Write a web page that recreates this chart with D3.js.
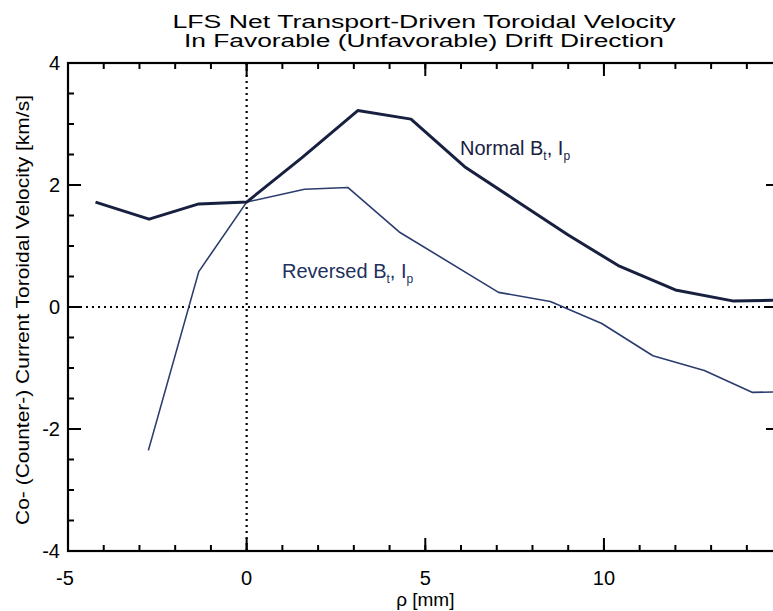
<!DOCTYPE html>
<html><head><meta charset="utf-8">
<script src="https://cdn.jsdelivr.net/npm/d3@7"></script>
<style>
html,body{margin:0;padding:0;background:#fff;}
svg text{font-family:"Liberation Sans",Arial,Helvetica,sans-serif;fill:#000;}
</style></head>
<body><svg id="c" width="773" height="611"></svg>
<script>
// Data
const normalX = [-4.23, -2.73, -1.34, 0.0, 1.55, 3.11, 4.6, 6.1, 7.5, 9.0, 10.4, 12.0, 13.6, 14.9];
const normalY = [1.72, 1.44, 1.69, 1.72, 2.45, 3.22, 3.08, 2.3, 1.76, 1.18, 0.68, 0.28, 0.1, 0.11];
const reversedX = [-2.75, -1.34, 0.0, 1.62, 2.83, 4.27, 7.05, 8.5, 9.94, 11.37, 12.81, 14.16, 14.9];
const reversedY = [-2.35, 0.58, 1.72, 1.93, 1.96, 1.23, 0.24, 0.09, -0.27, -0.8, -1.04, -1.4, -1.39];
const xMajorTicks = [-5, 0, 5, 10];
const xMinorTicks = d3.range(-5, 15, 1);
const yMajorTicks = [-4, -2, 0, 2, 4];
const yMinorTicks = d3.range(-4, 4.01, 0.5);
const titleLines = ["LFS Net Transport-Driven Toroidal Velocity", "In Favorable (Unfavorable) Drift Direction"];
const yLabel = "Co- (Counter-) Current Toroidal Velocity [km/s]";
const xLabel = "ρ [mm]";

const svg = d3.select("#c");
const L = 68, R = 779, T = 63, B = 551;
const x = d3.scaleLinear().domain([-5, 14.9]).range([L, R]);
const y = d3.scaleLinear().domain([-4, 4]).range([B, T]);

// Title
svg.append("text").attr("x", 424).attr("y", 28).attr("text-anchor", "middle")
  .attr("font-size", 17.5).attr("textLength", 503).attr("lengthAdjust", "spacingAndGlyphs").text(titleLines[0]);
svg.append("text").attr("x", 424).attr("y", 47).attr("text-anchor", "middle")
  .attr("font-size", 17.5).attr("textLength", 480).attr("lengthAdjust", "spacingAndGlyphs").text(titleLines[1]);

// Zero dotted lines
svg.append("line").attr("x1", L).attr("x2", R).attr("y1", y(0)).attr("y2", y(0))
  .attr("stroke", "#000").attr("stroke-width", 2.2).attr("stroke-dasharray", "2,4");
svg.append("line").attr("x1", x(0)).attr("x2", x(0)).attr("y1", T).attr("y2", B)
  .attr("stroke", "#000").attr("stroke-width", 2.2).attr("stroke-dasharray", "2,4");

// Inward ticks
const tg = svg.append("g").attr("stroke", "#000").attr("stroke-width", 2);
function xTicks(vals, len) {
  vals.forEach(v => {
    tg.append("line").attr("x1", x(v)).attr("x2", x(v)).attr("y1", B).attr("y2", B - len);
    tg.append("line").attr("x1", x(v)).attr("x2", x(v)).attr("y1", T).attr("y2", T + len);
  });
}
function yTicks(vals, len) {
  vals.forEach(v => {
    tg.append("line").attr("y1", y(v)).attr("y2", y(v)).attr("x1", L).attr("x2", L + len);
    tg.append("line").attr("y1", y(v)).attr("y2", y(v)).attr("x1", R).attr("x2", R - len);
  });
}
xTicks(xMinorTicks, 6); xTicks(xMajorTicks, 13);
yTicks(yMinorTicks, 6); yTicks(yMajorTicks, 13);

// Frame
svg.append("rect").attr("x", L).attr("y", T).attr("width", R - L).attr("height", B - T)
  .attr("fill", "none").attr("stroke", "#000").attr("stroke-width", 2.2);

// Tick labels
svg.selectAll(".xl").data(xMajorTicks).enter().append("text")
  .attr("x", d => x(d) + (d < 0 ? -3 : 0)).attr("y", 585).attr("text-anchor", "middle")
  .attr("font-size", 20).text(d => d);
svg.selectAll(".yl").data(yMajorTicks).enter().append("text")
  .attr("x", 60).attr("y", d => y(d) + 7).attr("text-anchor", "end")
  .attr("font-size", 20).text(d => d);

// Axis labels
svg.append("text").attr("x", x(5)).attr("y", 606).attr("text-anchor", "middle")
  .attr("font-size", 19).text(xLabel);
svg.append("text").attr("transform", `translate(29,${(T + B) / 2 + 3}) rotate(-90)`)
  .attr("text-anchor", "middle").attr("font-size", 19).attr("textLength", 430)
  .attr("lengthAdjust", "spacingAndGlyphs").text(yLabel);

// Lines
svg.append("clipPath").attr("id", "clp").append("rect")
  .attr("x", L).attr("y", T).attr("width", R - L).attr("height", B - T);
const line = d3.line().x(d => x(d[0])).y(d => y(d[1]));
svg.append("path").datum(reversedX.map((v, i) => [v, reversedY[i]]))
  .attr("d", line).attr("fill", "none").attr("stroke", "#2b3c6e").attr("stroke-width", 1.6)
  .attr("stroke-linejoin", "round").attr("clip-path", "url(#clp)");
svg.append("path").datum(normalX.map((v, i) => [v, normalY[i]]))
  .attr("d", line).attr("fill", "none").attr("stroke", "#18203f").attr("stroke-width", 3)
  .attr("stroke-linejoin", "round").attr("clip-path", "url(#clp)");

// Series labels
function seriesLabel(px, py, name, color) {
  const t = svg.append("text").attr("x", px).attr("y", py).attr("font-size", 20).style("fill", color);
  t.append("tspan").text(name + " B");
  t.append("tspan").attr("font-size", 12).attr("dy", 5).text("t");
  t.append("tspan").attr("dy", -5).text(", I");
  t.append("tspan").attr("font-size", 12).attr("dy", 5).text("p");
}
seriesLabel(460, 155, "Normal", "#18203f");
seriesLabel(282, 278, "Reversed", "#22305e");
</script></body></html>
